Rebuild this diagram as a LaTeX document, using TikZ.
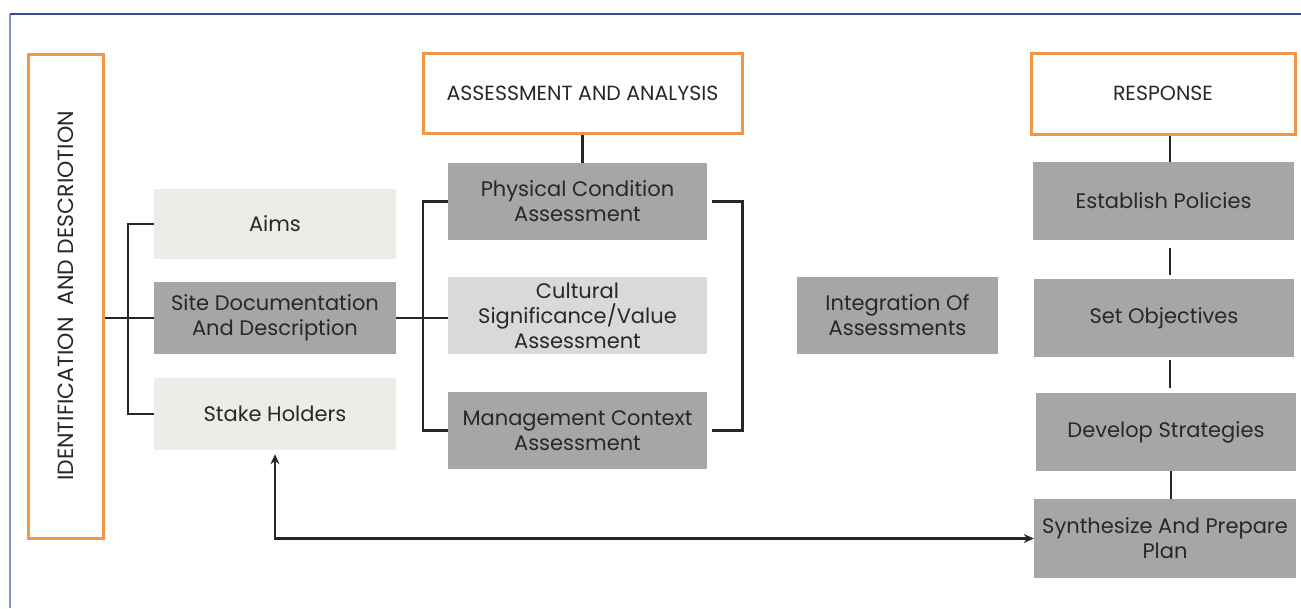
\documentclass[tikz,border=0pt]{standalone}
\usepackage{fontspec}
\setmainfont{Poppins}
\usetikzlibrary{arrows.meta}
\definecolor{orng}{RGB}{240,150,72}
\definecolor{boxdark}{RGB}{166,166,166}
\definecolor{boxlight}{RGB}{217,217,217}
\definecolor{boxbeige}{RGB}{238,236,230}
\definecolor{txt}{RGB}{40,40,40}
\definecolor{frameA}{RGB}{50,80,140}
\definecolor{frameB}{RGB}{128,144,192}
\tikzset{
  head/.style={draw=orng, line width=3pt, fill=white, text=txt, font=\fontsize{20.5}{24}\selectfont, align=center},
  dbox/.style={fill=boxdark, text=txt, font=\fontsize{21}{25}\selectfont, align=center, inner sep=0pt},
  lbox/.style={dbox, fill=boxlight},
  bbox/.style={dbox, fill=boxbeige},
  conn/.style={draw=black!85, line width=2.6pt},
  arr/.style={conn, {Stealth[length=10pt,width=9pt]}-{Stealth[length=10pt,width=9pt]}},
}
\begin{document}
\begin{tikzpicture}[x=1pt,y=-1pt]
\useasboundingbox (0,0) rectangle (1301,608);
\fill[white] (0,0) rectangle (1301,608);
\draw[frameB, line width=2pt] (10,608) -- (10,14);
\draw[frameA, line width=1.5pt] (10,14) -- (1301,14);

% headers
\node[head, minimum width=75pt, minimum height=484pt, inner sep=0pt] (id) at (65.5,296) {};
\node[text=txt, font=\fontsize{22}{24}\selectfont, rotate=90] (idt) at (id.center) {IDENTIFICATION\ \ AND DESCRIOTION};
\node[head, minimum width=319pt, minimum height=80pt, inner sep=0pt] (assess) at (582.5,93) {ASSESSMENT AND ANALYSIS};
\node[head, minimum width=264pt, minimum height=81pt, inner sep=0pt] (resp) at (1163,93.5) {RESPONSE};

% left column
\node[bbox, minimum width=242pt, minimum height=70pt] (aims) at (275,224) {Aims};
\node[dbox, minimum width=242pt, minimum height=72pt] (site) at (275,318) {Site Documentation\\And Description};
\node[bbox, minimum width=242pt, minimum height=72pt] (stake) at (275,414) {Stake Holders};

% middle column
\node[dbox, minimum width=259pt, minimum height=77pt] (phys) at (577.5,201.5) {Physical Condition\\Assessment};
\node[lbox, minimum width=259pt, minimum height=77pt] (cult) at (577.5,315.5) {Cultural\\Significance/Value\\Assessment};
\node[dbox, minimum width=259pt, minimum height=77pt] (mgmt) at (577.5,430.5) {Management Context\\Assessment};

\node[dbox, minimum width=201pt, minimum height=77pt] (integ) at (897.5,315.5) {Integration Of\\Assessments};

% right column
\node[dbox, minimum width=261pt, minimum height=78pt] (estab) at (1163.5,201) {Establish Policies};
\node[dbox, minimum width=260pt, minimum height=78pt] (setobj) at (1164,318) {Set Objectives};
\node[dbox, minimum width=260pt, minimum height=78pt] (devel) at (1166,432) {Develop Strategies};
\node[dbox, minimum width=262pt, minimum height=79pt] (synth) at (1165,538.5) {Synthesize And Prepare\\Plan};

% connectors
\draw[conn] (id.east |- site.west) -- (site.west);
\draw[conn] (aims.west) -- ++(-26,0) |- (stake.west);
\draw[conn] (site.east) -- (site.east -| cult.west);
\draw[conn] (phys.west) -- ++(-25,0) |- (mgmt.west);
\draw[conn] ([xshift=5pt]phys.east) -- ++(30,0) |- ([xshift=5pt]mgmt.east);
\draw[conn] (assess.south) -- (assess.south |- phys.north);
\draw[conn] ([xshift=7pt]resp.south) -- ([xshift=7pt]resp.south |- estab.north);
\draw[conn] ([xshift=6.5pt,yshift=-8pt]estab.south) -- ([xshift=6.5pt,yshift=4pt]estab.south |- setobj.north);
\draw[conn] ([xshift=6pt,yshift=-3pt]setobj.south) -- ([xshift=6pt,yshift=5pt]setobj.south |- devel.north);
\draw[conn] ([xshift=5pt]devel.south) -- ([xshift=5pt]devel.south |- synth.north);
\draw[arr] ([yshift=-4pt]stake.south) -- (stake.south |- synth.west) -- (synth.west);
\end{tikzpicture}
\end{document}
